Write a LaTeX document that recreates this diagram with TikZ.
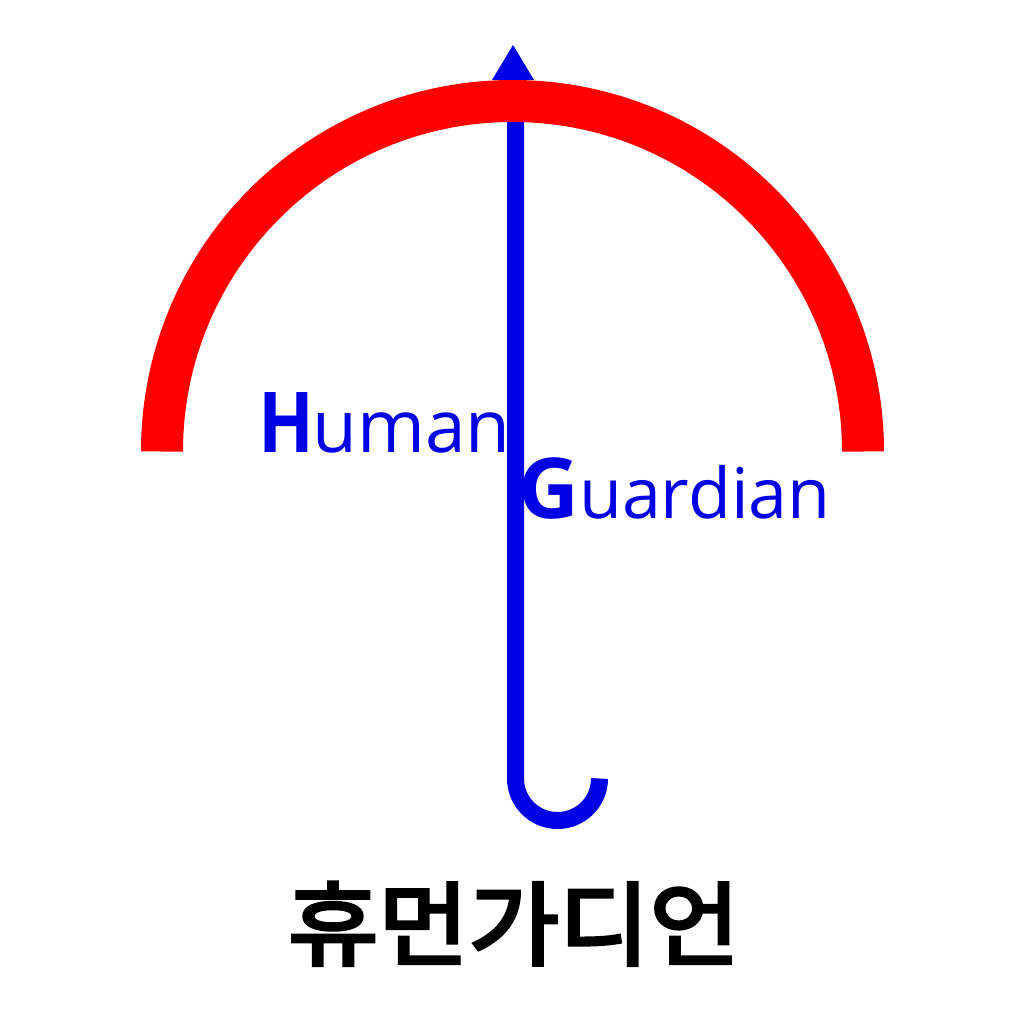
\documentclass[tikz,border=0pt]{standalone}
\usepackage{fontspec}
\setmainfont{Open Sans}
\newfontfamily\narrowbold[FakeStretch=0.87]{Open Sans Bold}
\newfontfamily\cjk[FakeStretch=1.08,FakeBold=4]{Noto Sans CJK KR}
\definecolor{ublue}{RGB}{0,0,228}
\begin{document}
\begin{tikzpicture}[x=1pt,y=-1pt,
  canopy/.style={draw=red,line width=42pt},
  shaft/.style={draw=ublue,line width=17pt},
  tiptri/.style={fill=ublue,draw=none},
  lbl/.style={text=ublue,inner sep=0pt,anchor=base west},
]
\useasboundingbox (0,0) rectangle (1024,1024);
\draw[shaft] (515.5,100) -- (515.5,778.5) arc[start angle=180,end angle=0,radius=42];
\fill[tiptri] (513,45) -- (534,80) -- (492,80) -- cycle;
\draw[canopy] (162,451.5) arc[start angle=180,end angle=360,radius=350.5];
\node[lbl] (human) at (258.5,452) {\fontsize{84}{84}\selectfont\narrowbold H\kern-2pt\fontsize{73}{73}\selectfont\mdseries\rmfamily uman};
\node[lbl] (guard) at (518,518) {\fontsize{84}{84}\selectfont\bfseries G\fontsize{70}{70}\selectfont\mdseries uardian};
\node[inner sep=0pt,anchor=base] (kor) at (514,958) {\cjk\fontsize{91}{91}\selectfont 휴먼가디언};
\end{tikzpicture}
\end{document}
